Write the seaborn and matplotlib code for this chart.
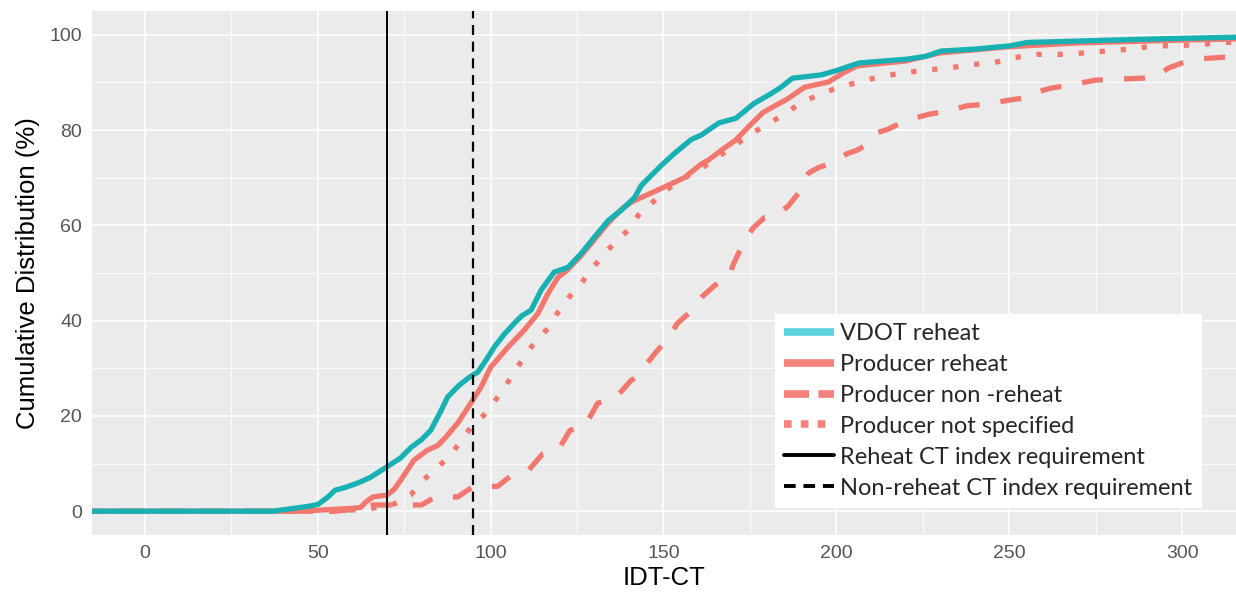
import numpy as np
import pandas as pd
import matplotlib
matplotlib.use("Agg")
import matplotlib.pyplot as plt
import seaborn as sns
from matplotlib.lines import Line2D
from matplotlib.ticker import MultipleLocator

# ---------------- data ----------------
vdot_x = [-20, 37, 42, 47, 50, 53, 55, 58, 61.5, 65, 70, 74, 77, 80, 82.7, 85.6, 87.6, 91, 94,
          96.3, 98.5, 101, 104, 106.8, 109, 111.7, 114.6, 118.4, 122.4, 126.2, 130, 134, 137.8,
          141.6, 143.6, 149.4, 153, 158, 161, 166, 171, 176, 181, 184, 187.3, 195.7, 200, 206.6,
          220.5, 226, 230.3, 240, 250.3, 255.2, 270, 290, 315, 320]
vdot_y = [0, 0, 0.5, 1.0, 1.4, 3.0, 4.4, 5.0, 5.9, 7.0, 9.3, 11.2, 13.4, 15.0, 17.0, 21, 24, 26.5,
          28.2, 29.2, 31.5, 34.4, 37.2, 39.4, 41, 42.2, 46.4, 50.2, 51.2, 54.1, 57.5, 61, 63.2,
          65.8, 68.4, 72.6, 75, 78, 79, 81.5, 82.5, 85.5, 87.6, 89, 90.9, 91.6, 92.5, 94.1,
          94.9, 95.5, 96.6, 97, 97.7, 98.4, 98.7, 99.1, 99.5, 99.5]

prod_reheat_x = [-20, 43, 50, 55, 60, 62.4, 64, 66, 70, 72, 74, 77.8, 81.7, 84.7, 87, 90.5, 94.3,
                 97.2, 100, 105, 109.7, 113.7, 116.6, 119.5, 122, 126, 130, 134, 138, 141, 148,
                 156, 161, 163, 166.8, 170.9, 175, 178.8, 182, 185.8, 190.8, 197.7, 202, 206,
                 220, 230, 250, 270, 300, 320]
prod_reheat_y = [0, 0, 0.2, 0.4, 0.6, 0.8, 2, 3.0, 3.4, 4.5, 6.5, 10.7, 12.8, 13.8, 15.5, 18.5,
                 22.7, 26, 30.2, 34.4, 38, 41.5, 45.7, 49.1, 50.5, 53.5, 57, 60.5, 63.5, 65,
                 67.3, 70, 72.9, 73.7, 75.8, 77.9, 81, 83.7, 85, 86.5, 89, 90.1, 92, 93.5,
                 94.5, 96.2, 97.5, 98.3, 98.9, 99.2]

prod_nonreheat_x = [-20, 55, 62, 66, 80, 84, 90.5, 95, 102, 106, 111, 115, 119.5, 123, 127, 131,
                    136, 140.7, 142, 147.5, 151, 154, 158, 161, 165, 169, 170, 173.5, 176, 179.3,
                    183.3, 186, 189, 190, 192, 195, 198.7, 203, 206, 209, 212, 215, 220, 226.6,
                    232, 237.8, 244, 250.8, 255, 258, 262, 268, 275, 285, 292, 296, 300, 306,
                    312, 320]
prod_nonreheat_y = [0, 0, 0.5, 1.3, 1.3, 3, 3, 5.2, 5.2, 7.5, 8.6, 12.0, 12.8, 17, 17.6, 22.7,
                    23.7, 27.5, 28, 33.1, 36, 39.4, 42, 44.9, 47.5, 49.1, 51.5, 56.9, 59.5, 61.7,
                    62.5, 64, 66.7, 68.8, 71, 72.2, 73, 75, 75.8, 77, 79.5, 80.2, 82, 83.3,
                    84, 85.1, 85.5, 86.4, 86.8, 88, 88.8, 89.5, 90.5, 90.8, 91, 93, 94.1, 95,
                    95.3, 95.3]

prod_ns_x = [-20, 55, 65, 72, 76.9, 79.8, 83.6, 87.6, 91, 94.3, 98, 101, 103.9, 106.8, 109.7,
             112.6, 116.6, 119.5, 122.4, 126.2, 129.1, 132, 135.8, 139.8, 142.7, 146.5, 150, 155,
             162, 170, 176, 180.7, 185.8, 189.7, 195.7, 200.7, 206.6, 212.6, 218.5, 225.4,
             232.4, 238.3, 245.3, 251.3, 258.2, 265, 272, 278, 285, 292, 298, 305.8, 312, 320]
prod_ns_y = [0, 0, 0.5, 1.5, 3.4, 6, 8.6, 11.1, 14.3, 17.6, 20.1, 22.9, 25.8, 29.2, 32.3,
             35.3, 38.4, 41.8, 44.7, 47.8, 50.6, 53.3, 56.3, 59, 62.1, 64.6, 67, 69.5,
             72.5, 76.5, 79.5, 81.5, 83.7, 85.8, 87.6, 89, 90.1, 91.2, 91.9, 92.6,
             93, 93.7, 94.1, 95.2, 95.9, 95.9, 96.2, 96.6, 97, 97.7, 97.7, 98, 98.4, 98.5]

reheat_req = 70
nonreheat_req = 95

series_names = ["VDOT reheat", "Producer reheat", "Producer non -reheat", "Producer not specified"]
line_labels = ["Reheat CT index requirement", "Non-reheat CT index requirement"]

x_ticks = [0, 50, 100, 150, 200, 250, 300]
y_ticks = [0, 20, 40, 60, 80, 100]

# ---------------- build table ----------------
df = pd.concat([
    pd.DataFrame({"IDT-CT": prod_nonreheat_x, "cdf": prod_nonreheat_y, "series": series_names[2]}),
    pd.DataFrame({"IDT-CT": prod_ns_x, "cdf": prod_ns_y, "series": series_names[3]}),
    pd.DataFrame({"IDT-CT": prod_reheat_x, "cdf": prod_reheat_y, "series": series_names[1]}),
    pd.DataFrame({"IDT-CT": vdot_x, "cdf": vdot_y, "series": series_names[0]}),
], ignore_index=True)

teal, red = "#17B0B3", "#F2786F"
teal_leg, red_leg = "#5ED3DC", "#F4817B"

sns.set_theme(style="darkgrid", rc={
    "axes.facecolor": "#EBEBEB",
    "figure.facecolor": "white",
    "grid.color": "white",
    "grid.linewidth": 1.2,
})
plt.rcParams["font.family"] = ["Liberation Sans", "DejaVu Sans"]

fig = plt.figure(figsize=(12.36, 5.99), dpi=100)
ax = fig.add_axes([0.0744, 0.1068, 0.9256, 0.8748])
ax.set_axisbelow(True)

draw_order = [series_names[2], series_names[3], series_names[1], series_names[0]]
sns.lineplot(data=df, x="IDT-CT", y="cdf", hue="series", style="series",
             hue_order=draw_order, style_order=draw_order,
             palette={series_names[0]: teal, series_names[1]: red,
                      series_names[2]: red, series_names[3]: red},
             dashes={series_names[0]: "", series_names[1]: "",
                     series_names[2]: (4, 4), series_names[3]: (1, 3)},
             estimator=None, sort=False, linewidth=3.8, legend=False, ax=ax)

ax.axvline(reheat_req, color="black", lw=1.4, zorder=5)
ax.axvline(nonreheat_req, color="black", lw=1.6, dashes=(4.5, 3), zorder=5)

ax.set_xlim(-15.3, 315.6)
ax.set_ylim(-5, 105)
ax.set_xticks(x_ticks)
ax.set_yticks(y_ticks)
ax.xaxis.set_minor_locator(MultipleLocator(25))
ax.yaxis.set_minor_locator(MultipleLocator(10))
ax.grid(which="major", color="white", lw=1.2)
ax.grid(which="minor", color="white", lw=0.6)
for s in ax.spines.values():
    s.set_visible(False)
ax.tick_params(which="major", length=4, width=1.1, color="#333333",
               labelsize=14, labelcolor="#555555", pad=3)
ax.tick_params(which="minor", length=0)
ax.set_xlabel("IDT-CT", fontsize=18.5, color="black", labelpad=3)
ax.set_ylabel("Cumulative Distribution (%)", fontsize=18.5, color="black", labelpad=7)

handles = [
    Line2D([], [], color=teal_leg, lw=5.5, solid_capstyle="butt"),
    Line2D([], [], color=red_leg, lw=5.5, solid_capstyle="butt"),
    Line2D([], [], color=red_leg, lw=5.5, dashes=(3.3, 1.2)),
    Line2D([], [], color=red_leg, lw=5.5, dashes=(1, 1.2)),
    Line2D([], [], color="black", lw=2.8),
    Line2D([], [], color="black", lw=2.8, dashes=(3, 2)),
]
labels = series_names + line_labels
leg = ax.legend(handles, labels, loc="lower left", bbox_to_anchor=(0.597, 0.0515),
                frameon=True, facecolor="white", edgecolor="none", fancybox=False,
                framealpha=1, prop={"family": ["Lato", "DejaVu Sans"], "size": 17},
                handlelength=2.1, handletextpad=0.27, labelspacing=0.42,
                borderpad=0.4, borderaxespad=0)
leg.get_frame().set_linewidth(0)
leg.set_zorder(10)

fig.savefig("out.png", dpi=100)
